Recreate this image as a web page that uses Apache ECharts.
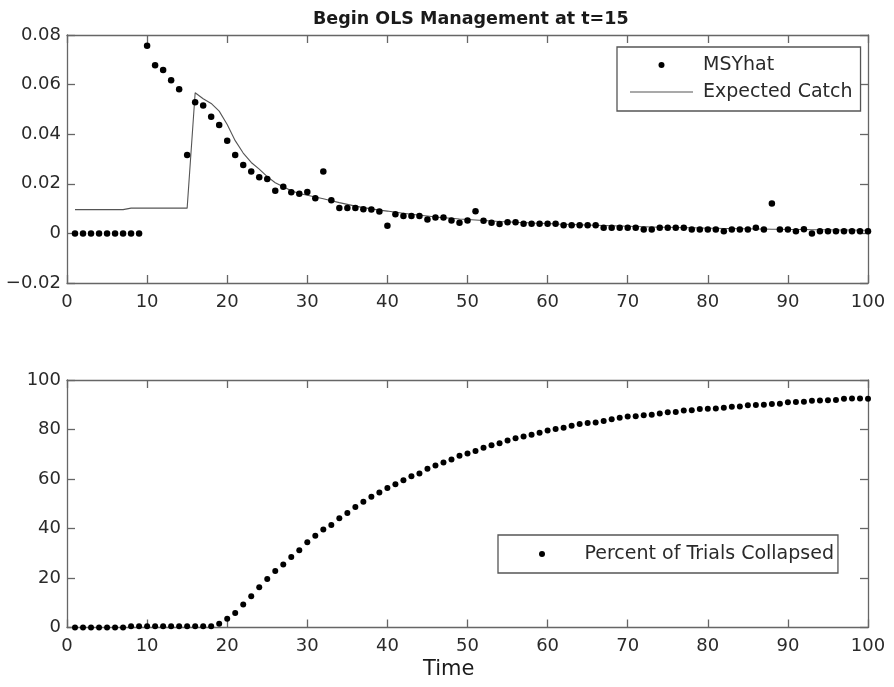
<!DOCTYPE html>
<html>
<head>
<meta charset="utf-8">
<style>
html,body{margin:0;padding:0;background:#fff;}
#chart{width:894px;height:687px;}
</style>
<script src="https://cdn.jsdelivr.net/npm/echarts/dist/echarts.min.js"></script>
</head>
<body>
<div id="chart"></div>
<script>
// ---- data ----
var timeSteps = [1,2,3,4,5,6,7,8,9,10,11,12,13,14,15,16,17,18,19,20,21,22,23,24,25,26,27,28,29,30,31,32,33,34,35,36,37,38,39,40,41,42,43,44,45,46,47,48,49,50,51,52,53,54,55,56,57,58,59,60,61,62,63,64,65,66,67,68,69,70,71,72,73,74,75,76,77,78,79,80,81,82,83,84,85,86,87,88,89,90,91,92,93,94,95,96,97,98,99,100];

var msyHat = [0,0,0,0,0,0,0,0,0,0.0757,
  0.0678,0.0659,0.0618,0.0581,0.0316,0.0529,0.0516,0.0470,0.0437,0.0374,
  0.0316,0.0276,0.0250,0.0226,0.0219,0.0172,0.0188,0.0166,0.0160,0.0167,
  0.0142,0.0250,0.0134,0.0102,0.0102,0.0102,0.0097,0.0096,0.0088,0.0031,
  0.0077,0.0070,0.0070,0.0070,0.0056,0.0064,0.0064,0.0052,0.0043,0.0052,
  0.0089,0.0051,0.0043,0.0038,0.0045,0.0045,0.0039,0.0039,0.0039,0.0039,
  0.0039,0.0033,0.0033,0.0033,0.0033,0.0033,0.0023,0.0023,0.0023,0.0023,
  0.0023,0.0016,0.0016,0.0023,0.0023,0.0023,0.0023,0.0016,0.0016,0.0016,
  0.0016,0.0009,0.0016,0.0016,0.0016,0.0023,0.0016,0.0121,0.0016,0.0016,
  0.0009,0.0017,0.0000,0.0009,0.0009,0.0009,0.0009,0.0009,0.0009,0.0009];

var expectedCatch = [0.0096,0.0096,0.0096,0.0096,0.0096,0.0096,0.0096,0.0102,0.0102,0.0102,
  0.0102,0.0102,0.0102,0.0102,0.0102,0.0567,0.0543,0.0524,0.0493,0.0439,
  0.0374,0.0324,0.0286,0.0259,0.0229,0.0204,0.0188,0.0172,0.0161,0.0154,
  0.0147,0.0140,0.0132,0.0124,0.0117,0.0110,0.0104,0.0099,0.0094,0.0090,
  0.0085,0.0081,0.0077,0.0073,0.0070,0.0066,0.0063,0.0061,0.0058,0.0056,
  0.0054,0.0052,0.0050,0.0048,0.0047,0.0045,0.0044,0.0042,0.0041,0.0040,
  0.0038,0.0037,0.0036,0.0035,0.0034,0.0033,0.0032,0.0031,0.0030,0.0029,
  0.0028,0.0027,0.0026,0.0025,0.0025,0.0024,0.0023,0.0023,0.0022,0.0021,
  0.0021,0.0020,0.0020,0.0019,0.0019,0.0018,0.0018,0.0017,0.0017,0.0016,
  0.0016,0.0016,0.0015,0.0015,0.0015,0.0014,0.0014,0.0014,0.0013,0.0013];

var percentCollapsed = [0,0,0,0,0,0,0,0.5,0.5,0.5,
  0.5,0.5,0.5,0.5,0.5,0.5,0.5,0.5,1.5,3.5,
  5.9,9.3,12.6,16.3,19.6,22.8,25.5,28.5,31.2,34.4,
  37.1,39.6,41.4,44.1,46.3,48.7,50.8,52.8,54.5,56.4,
  57.9,59.5,61.1,62.2,64.1,65.5,66.7,67.9,69.4,70.3,
  71.3,72.6,73.6,74.4,75.6,76.5,77.2,77.9,78.7,79.6,
  80.2,80.7,81.5,82.2,82.6,82.8,83.4,84.1,84.7,85.3,
  85.4,85.8,86.0,86.5,87.0,87.1,87.7,87.8,88.3,88.4,
  88.5,88.8,89.2,89.3,89.8,89.9,90.0,90.3,90.4,91.0,
  91.1,91.2,91.6,91.7,91.8,91.9,92.4,92.5,92.5,92.4];

var titleText = 'Begin OLS Management at t=15';
var xLabel = 'Time';
var seriesNames = ['MSYhat', 'Expected Catch', 'Percent of Trials Collapsed'];

// ---- build ----
function pairs(xs, ys){ return xs.map(function(x,i){ return [x, ys[i]]; }); }

var FONT = 'DejaVu Sans';
var AXIS_COLOR = '#666';
var TEXT_COLOR = '#2a2a2a';
var LINE_ICON = 'path://M0,0H63V1.2H0Z';

function xAx(grid, pos, labels){
  return {
    type:'value', gridIndex:grid, position:pos, min:0, max:100, interval:10,
    axisLine:{show:true, onZero:false, lineStyle:{color:AXIS_COLOR, width:1.3}},
    axisTick:{show:true, inside:true, length:8, lineStyle:{color:AXIS_COLOR, width:1.3}},
    axisLabel:{show:labels, fontFamily:FONT, fontSize:18, color:TEXT_COLOR, margin:10},
    splitLine:{show:false}
  };
}
function yAx(grid, pos, labels, min, max, interval, fmt){
  return {
    type:'value', gridIndex:grid, position:pos, min:min, max:max, interval:interval,
    axisLine:{show:true, onZero:false, lineStyle:{color:AXIS_COLOR, width:1.3}},
    axisTick:{show:true, inside:true, length:8, lineStyle:{color:AXIS_COLOR, width:1.3}},
    axisLabel:{show:labels, fontFamily:FONT, fontSize:18, color:TEXT_COLOR, margin:6, formatter:fmt},
    splitLine:{show:false}
  };
}
function fmtSmall(v){
  if (Math.abs(v) < 1e-9) return '0';
  return (v < 0 ? '\u2212' : '') + Math.abs(v).toFixed(2);
}

var chart = echarts.init(document.getElementById('chart'), null, {renderer:'canvas'});
chart.setOption({
  backgroundColor:'#fff',
  animation:false,
  title:[
    {text:titleText, left:308, top:5, textStyle:{fontFamily:FONT, fontWeight:'bold', fontSize:17.5, color:'#1a1a1a'}},
    {text:xLabel, left:418, top:654, textStyle:{fontFamily:FONT, fontWeight:'normal', fontSize:21, color:'#1a1a1a'}}
  ],
  grid:[
    {left:67, right:26, top:35, height:248},
    {left:67, right:26, top:380, height:247.5}
  ],
  xAxis:[ xAx(0,'bottom',true), xAx(0,'top',false), xAx(1,'bottom',true), xAx(1,'top',false) ],
  yAxis:[
    yAx(0,'left',true,-0.02,0.08,0.02,fmtSmall),
    yAx(0,'right',false,-0.02,0.08,0.02),
    yAx(1,'left',true,0,100,20),
    yAx(1,'right',false,0,100,20)
  ],
  legend:[
    {
      id:'legTop',
      data:[{name:seriesNames[0], icon:'circle'}, {name:seriesNames[1], icon:LINE_ICON}],
      orient:'vertical', align:'left', left:617, top:47,
      padding:[7,8,8,13], itemGap:5, itemWidth:63, itemHeight:6,
      backgroundColor:'#fff', borderColor:'#555', borderWidth:1.3,
      selectedMode:false,
      textStyle:{fontFamily:FONT, fontSize:19, color:TEXT_COLOR, lineHeight:22, padding:[0,0,0,5]}
    },
    {
      id:'legBottom',
      data:[{name:seriesNames[2], icon:'circle'}],
      orient:'vertical', align:'left', left:498, top:535,
      padding:[8,4,8,41], itemGap:5, itemWidth:63, itemHeight:6,
      backgroundColor:'#fff', borderColor:'#555', borderWidth:1.3,
      selectedMode:false,
      textStyle:{fontFamily:FONT, fontSize:19, color:TEXT_COLOR, lineHeight:22, padding:[0,0,0,6]}
    }
  ],
  series:[
    {
      name:seriesNames[1], type:'line', xAxisIndex:0, yAxisIndex:0,
      data:pairs(timeSteps, expectedCatch),
      showSymbol:false, symbol:'none',
      lineStyle:{color:'#555', width:1.1}, itemStyle:{color:'#555'}, z:2
    },
    {
      name:seriesNames[0], type:'scatter', xAxisIndex:0, yAxisIndex:0,
      data:pairs(timeSteps, msyHat),
      symbol:'circle', symbolSize:6.5, itemStyle:{color:'#000', opacity:1}, z:3
    },
    {
      name:seriesNames[2], type:'scatter', xAxisIndex:2, yAxisIndex:2,
      data:pairs(timeSteps, percentCollapsed),
      symbol:'circle', symbolSize:6, itemStyle:{color:'#000', opacity:1}, z:3
    }
  ]
});
</script>
</body>
</html>
